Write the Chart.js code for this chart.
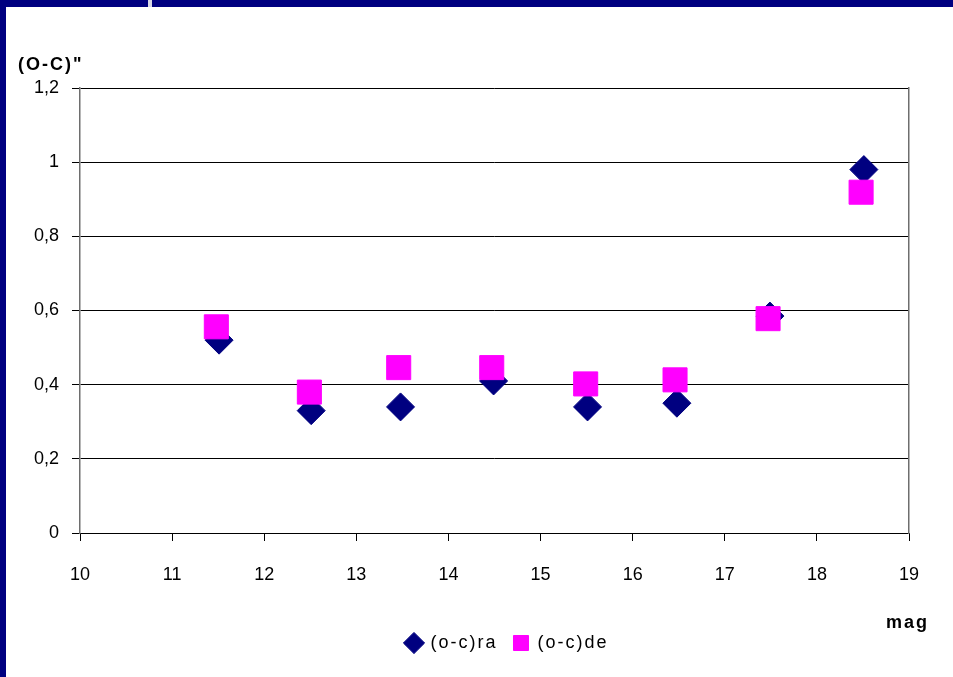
<!DOCTYPE html>
<html>
<head>
<meta charset="utf-8">
<script src="https://cdn.jsdelivr.net/npm/chart.js@4/dist/chart.umd.min.js"></script>
<style>
  html, body { margin: 0; padding: 0; background: #fff; overflow: hidden; }
  #wrap { position: relative; width: 953px; height: 677px; background: #fff; }
  #wrap canvas { position: absolute; left: 0; top: 0; }
  .bar { position: absolute; background: #000080; }
</style>
</head>
<body>
<div id="wrap">
  <canvas id="chart" width="953" height="677"></canvas>
  <div class="bar" style="left:0;top:0;width:148px;height:7px"></div>
  <div style="position:absolute;left:148px;top:0;width:4px;height:7px;background:#d8d8e6"></div>
  <div class="bar" style="left:152px;top:0;width:801px;height:7px"></div>
  <div class="bar" style="left:0;top:0;width:6px;height:677px"></div>
</div>
<script>
// Residuals (O-C) in arcseconds per magnitude bin
const magRa = [11.51, 12.51, 13.48, 14.49, 15.51, 16.48, 17.49, 18.51];
const ocRa  = [0.52, 0.33, 0.34, 0.41, 0.34, 0.35, 0.585, 0.98];
const magDe = [11.48, 12.49, 13.46, 14.47, 15.49, 16.46, 17.47, 18.48];
const ocDe  = [0.556, 0.38, 0.446, 0.446, 0.402, 0.413, 0.578, 0.919];

const seriesNames = ['(o-c)ra', '(o-c)de'];
const xTickLabels = ['10', '11', '12', '13', '14', '15', '16', '17', '18', '19'];
const yTickLabels = ['0', '0,2', '0,4', '0,6', '0,8', '1', '1,2'];
const yTitle = '(O-C)"';
const xTitle = 'mag';

const FONT = '"Liberation Sans", Arial, Helvetica, sans-serif';
Chart.defaults.font.family = FONT;
Chart.defaults.font.size = 18;
Chart.defaults.color = '#000';

const toPoints = (xs, ys) => xs.map((x, i) => ({ x, y: ys[i] }));

// Wider tracking for titles and legend; tick labels keep normal spacing
// and are allowed to extend past their (narrow) scale box.
const textStyle = {
  id: 'textStyle',
  beforeUpdate(chart) { chart.ctx.letterSpacing = '2px'; },
  beforeDraw(chart) {
    chart.ctx.letterSpacing = '2px';
    Object.values(chart.scales).forEach(s => {
      if (s._plainLabels) return;
      const draw = s.drawLabels;
      s._computeLabelArea = () => null;
      s.drawLabels = function (area) {
        const c = this.ctx;
        c.save();
        c.letterSpacing = '0px';
        draw.call(this, area);
        c.restore();
      };
      s._plainLabels = true;
    });
  },
  afterDraw(chart) {
    const c = chart.ctx;
    c.save();
    c.letterSpacing = '2px';
    c.fillStyle = '#000';
    c.font = 'bold 18px ' + FONT;
    c.textAlign = 'left';
    c.textBaseline = 'alphabetic';
    c.fillText(yTitle, 18, 70);
    c.fillText(xTitle, 886, 628);
    c.restore();
  }
};

new Chart(document.getElementById('chart'), {
  type: 'scatter',
  data: {
    datasets: [
      {
        label: seriesNames[0],
        data: toPoints(magRa, ocRa),
        pointStyle: 'rectRot',
        pointRadius: 14,
        backgroundColor: '#000080',
        borderColor: '#000080',
        borderWidth: 1,
        order: 1
      },
      {
        label: seriesNames[1],
        data: toPoints(magDe, ocDe),
        pointStyle: 'rect',
        pointRadius: 17,
        backgroundColor: '#ff00ff',
        borderColor: '#ff00ff',
        borderWidth: 1,
        order: 0
      }
    ]
  },
  options: {
    responsive: false,
    animation: false,
    devicePixelRatio: 1,
    events: [],
    layout: { padding: { left: 62, right: 0, top: 88, bottom: 15 } },
    plugins: {
      tooltip: { enabled: false },
      legend: {
        position: 'bottom',
        align: 'center',
        labels: {
          usePointStyle: true,
          boxWidth: 15,
          boxHeight: 15,
          padding: 16,
          color: '#000',
          font: { size: 18 },
          sort: (a, b) => a.datasetIndex - b.datasetIndex
        }
      }
    },
    scales: {
      x: {
        type: 'linear',
        position: 'bottom',
        min: 10,
        max: 19,
        ticks: {
          stepSize: 1,
          padding: 23,
          color: '#000',
          maxRotation: 0,
          autoSkip: false,
          callback: (v, i) => xTickLabels[i]
        },
        grid: { drawOnChartArea: false, drawTicks: true, tickLength: 8, color: '#000', lineWidth: 1 },
        border: { color: '#000', width: 1 },
        afterFit: s => { s.height = 85; }
      },
      y: {
        type: 'linear',
        position: 'left',
        min: 0,
        max: 1.2,
        ticks: {
          stepSize: 0.2,
          padding: 13,
          color: '#000',
          autoSkip: false,
          callback: (v, i) => yTickLabels[i]
        },
        grid: { color: '#000', lineWidth: 1, tickLength: 8 },
        border: { color: '#6e6e6e', width: 1.5 },
        afterFit: s => { s.width = 18; }
      },
      frameRight: {
        type: 'linear',
        position: 'right',
        display: true,
        ticks: { display: false },
        grid: { display: false },
        border: { display: true, color: '#6e6e6e', width: 1.5 },
        afterFit: s => { s.width = 44; }
      }
    }
  },
  plugins: [textStyle]
});
</script>
</body>
</html>
